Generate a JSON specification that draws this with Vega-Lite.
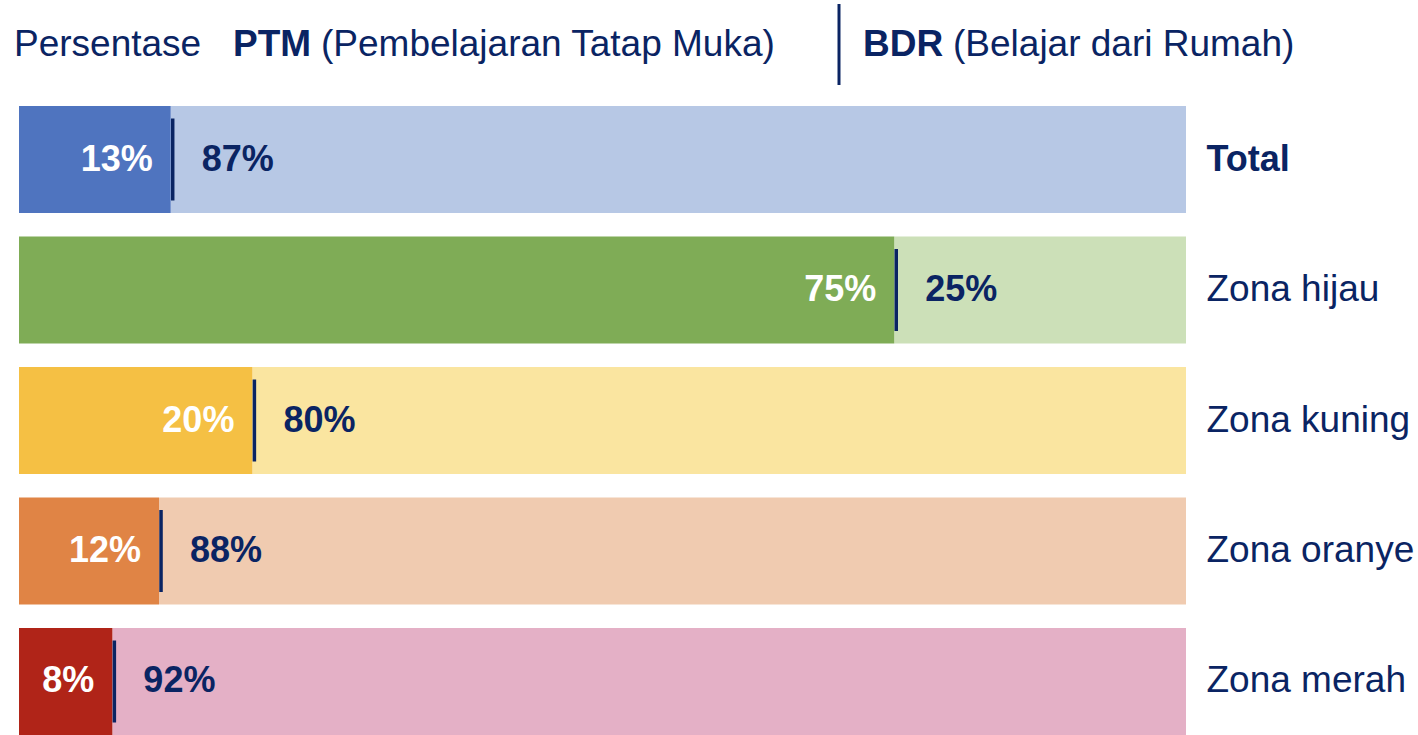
{
  "$schema": "https://vega.github.io/schema/vega-lite/v6.json",
  "width": 1167,
  "height": 629,
  "autosize": "none",
  "padding": {"left": 19, "top": 106, "right": 232, "bottom": 0},
  "background": "white",
  "config": {"view": {"stroke": null}, "font": "Liberation Sans", "text": {"font": "Liberation Sans"}},
  "data": {"values": [
    {"zona": "Total", "PTM": 0.13, "BDR": 0.87},
    {"zona": "Zona hijau", "PTM": 0.75, "BDR": 0.25},
    {"zona": "Zona kuning", "PTM": 0.20, "BDR": 0.80},
    {"zona": "Zona oranye", "PTM": 0.12, "BDR": 0.88},
    {"zona": "Zona merah", "PTM": 0.08, "BDR": 0.92}
  ]},
  "layer": [
    {
      "mark": {"type": "bar", "cornerRadius": 0},
      "encoding": {
        "y": {"field": "zona", "type": "nominal", "sort": null,
          "scale": {"paddingInner": 0.18, "paddingOuter": 0},
          "axis": {"orient": "right", "title": null, "domain": false, "ticks": false, "tickSize": 0,
            "labelPadding": 20, "labelAlign": "left", "labelBaseline": "middle", "labelColor": "#0a2463",
            "labelFont": "Liberation Sans", "labelLimit": 0, "labelOverlap": false,
            "labelFontSize": {"condition": {"test": "datum.value == 'Total'", "value": 36}, "value": 37},
            "labelFontWeight": {"condition": {"test": "datum.value == 'Total'", "value": "bold"}, "value": "normal"}}},
        "x": {"field": "PTM", "type": "quantitative", "scale": {"domain": [0, 1], "nice": false, "zero": true}, "axis": null},
        "x2": {"datum": 1},
        "fill": {"field": "zona", "type": "nominal",
          "scale": {"domain": ["Total", "Zona hijau", "Zona kuning", "Zona oranye", "Zona merah"],
            "range": ["#b7c8e5", "#cce0b8", "#fae5a0", "#f0cbb0", "#e4b0c6"]}, "legend": null}
      }
    },
    {
      "mark": {"type": "bar", "cornerRadius": 0},
      "encoding": {
        "y": {"field": "zona", "type": "nominal", "sort": null},
        "x": {"field": "PTM", "type": "quantitative"},
        "color": {"field": "zona", "type": "nominal",
          "scale": {"domain": ["Total", "Zona hijau", "Zona kuning", "Zona oranye", "Zona merah"],
            "range": ["#4f74bf", "#7fac56", "#f5c044", "#e08445", "#b02418"]}, "legend": null}
      }
    },
    {
      "mark": {"type": "tick", "orient": "vertical", "thickness": 3.5, "size": 82, "color": "#0a2463", "opacity": 1, "xOffset": 2},
      "encoding": {
        "y": {"field": "zona", "type": "nominal", "sort": null},
        "x": {"field": "PTM", "type": "quantitative"}
      }
    },
    {
      "mark": {"type": "text", "align": "right", "baseline": "middle", "dx": -18, "fontSize": 36, "fontWeight": "bold", "color": "white", "font": "Liberation Sans"},
      "encoding": {
        "y": {"field": "zona", "type": "nominal", "sort": null},
        "x": {"field": "PTM", "type": "quantitative"},
        "text": {"field": "PTM", "type": "quantitative", "format": ".0%"}
      }
    },
    {
      "mark": {"type": "text", "align": "left", "baseline": "middle", "dx": 31, "fontSize": 36, "fontWeight": "bold", "color": "#0a2463", "font": "Liberation Sans"},
      "encoding": {
        "y": {"field": "zona", "type": "nominal", "sort": null},
        "x": {"field": "PTM", "type": "quantitative"},
        "text": {"field": "BDR", "type": "quantitative", "format": ".0%"}
      }
    },
    {
      "data": {"values": [{}]},
      "mark": {"type": "text", "text": "Persentase", "align": "left", "baseline": "alphabetic", "fontSize": 37, "color": "#0a2463", "font": "Liberation Sans"},
      "encoding": {"x": {"value": -5}, "y": {"value": -50}}
    },
    {
      "data": {"values": [{}]},
      "mark": {"type": "text", "text": "PTM", "align": "left", "baseline": "alphabetic", "fontSize": 37, "fontWeight": "bold", "color": "#0a2463", "font": "Liberation Sans"},
      "encoding": {"x": {"value": 214}, "y": {"value": -50}}
    },
    {
      "data": {"values": [{}]},
      "mark": {"type": "text", "text": "(Pembelajaran Tatap Muka)", "align": "left", "baseline": "alphabetic", "fontSize": 37, "color": "#0a2463", "font": "Liberation Sans"},
      "encoding": {"x": {"value": 302}, "y": {"value": -50}}
    },
    {
      "data": {"values": [{}]},
      "mark": {"type": "rule", "strokeWidth": 3, "color": "#0a2463"},
      "encoding": {"x": {"value": 820}, "y": {"value": -102}, "y2": {"value": -21}}
    },
    {
      "data": {"values": [{}]},
      "mark": {"type": "text", "text": "BDR", "align": "left", "baseline": "alphabetic", "fontSize": 37, "fontWeight": "bold", "color": "#0a2463", "font": "Liberation Sans"},
      "encoding": {"x": {"value": 844}, "y": {"value": -50}}
    },
    {
      "data": {"values": [{}]},
      "mark": {"type": "text", "text": "(Belajar dari Rumah)", "align": "left", "baseline": "alphabetic", "fontSize": 37, "color": "#0a2463", "font": "Liberation Sans"},
      "encoding": {"x": {"value": 934}, "y": {"value": -50}}
    }
  ]
}
